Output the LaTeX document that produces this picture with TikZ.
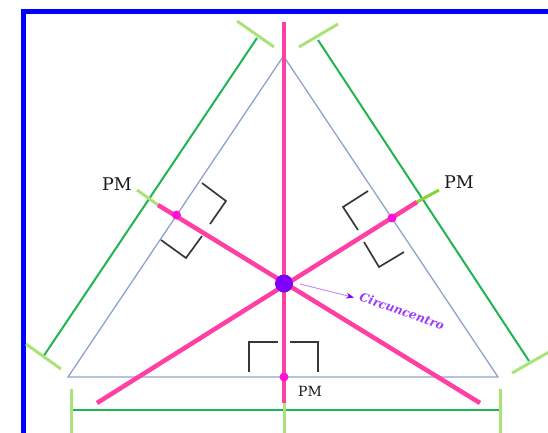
\documentclass[tikz,border=0pt]{standalone}
\usepackage{fontspec}
\setmainfont{DejaVu Serif}
\usetikzlibrary{arrows.meta}
\definecolor{frameblue}{HTML}{0000FF}
\definecolor{triedge}{HTML}{8FA3C9}
\definecolor{darkgreen}{HTML}{1FB551}
\definecolor{limeg}{HTML}{ABE37A}
\definecolor{limeb}{HTML}{86D33A}
\definecolor{hotpink}{HTML}{FF3FA4}
\definecolor{magdot}{HTML}{FF10D8}
\definecolor{purpdot}{HTML}{8000FF}
\definecolor{lavline}{HTML}{C08CFF}
\definecolor{txtpurple}{HTML}{9B3BFF}
\definecolor{markgray}{HTML}{383838}
\tikzset{
  frameline/.style={draw=frameblue, line width=5pt},
  triline/.style={draw=triedge, line width=1.3pt, line join=miter},
  greenline/.style={draw=darkgreen, line width=2pt},
  ticks/.style={draw=limeg, line width=3pt},
  tickb/.style={draw=limeb, line width=3pt},
  bisector/.style={draw=hotpink, line width=4.5pt},
  rightmark/.style={draw=markgray, line width=1.7pt},
  middot/.style={circle, fill=magdot, inner sep=0pt, minimum size=9pt},
  centerdot/.style={circle, fill=purpdot, inner sep=0pt, minimum size=18pt},
  pmlabel/.style={text=black!90, inner sep=0pt},
}
\begin{document}
\begin{tikzpicture}[x=1pt,y=-1pt]
\useasboundingbox (0,0) rectangle (548,432);
\clip (0,0) rectangle (548,432);
% frame
\draw[frameline] (23,11) rectangle (620,500);
% triangle
\coordinate (A) at (283.5,56);
\coordinate (B) at (68,377);
\coordinate (C) at (498,377);
\draw[triline] (A) -- (B) -- (C) -- cycle;
% green parallels
\coordinate (gl1) at (257,38);
\coordinate (gl2) at (43,357);
\coordinate (gr1) at (318,40);
\coordinate (gr2) at (529,361);
\coordinate (gb1) at (71,410);
\coordinate (gb2) at (500,410);
\draw[greenline] (gl1) -- (gl2);
\draw[greenline] (gr1) -- (gr2);
\draw[greenline] (gb1) -- (gb2);
% lime ticks
\coordinate (t1a) at (237,21);  \coordinate (t1b) at (274,47);
\coordinate (t2a) at (26,344);  \coordinate (t2b) at (61,369);
\coordinate (t3a) at (299,47);  \coordinate (t3b) at (338,24);
\coordinate (t4a) at (512,373); \coordinate (t4b) at (556,348);
\coordinate (t5a) at (71,389);  \coordinate (t5b) at (71,434);
\coordinate (t6a) at (500,389); \coordinate (t6b) at (500,434);
\draw[ticks] (t1a) -- (t1b);
\draw[ticks] (t2a) -- (t2b);
\draw[ticks] (t3a) -- (t3b);
\draw[ticks] (t4a) -- (t4b);
\draw[ticks] (t5a) -- (t5b);
\draw[ticks] (t6a) -- (t6b);
% right-angle marks
\coordinate (r1a) at (202,183); \coordinate (r1b) at (226,201); \coordinate (r1c) at (210,224);
\coordinate (r1d) at (202,236); \coordinate (r1e) at (186,258); \coordinate (r1f) at (161,240);
\draw[rightmark] (r1a) -- (r1b) -- (r1c);
\draw[rightmark] (r1d) -- (r1e) -- (r1f);
\coordinate (r2a) at (368,191); \coordinate (r2b) at (343,207); \coordinate (r2c) at (358,230);
\coordinate (r2d) at (364,242); \coordinate (r2e) at (379,267); \coordinate (r2f) at (404,252);
\draw[rightmark] (r2a) -- (r2b) -- (r2c);
\draw[rightmark] (r2d) -- (r2e) -- (r2f);
\coordinate (r3a) at (249,372); \coordinate (r3b) at (249,342); \coordinate (r3c) at (278,342);
\coordinate (r3d) at (290,342); \coordinate (r3e) at (318,342); \coordinate (r3f) at (318,372);
\draw[rightmark] (r3a) -- (r3b) -- (r3c);
\draw[rightmark] (r3d) -- (r3e) -- (r3f);
% perpendicular bisectors
\coordinate (p1s) at (158,205); \coordinate (p1e) at (480,403);
\coordinate (p2s) at (417,202); \coordinate (p2e) at (97,403);
\coordinate (p3s) at (284,22); \coordinate (p3e) at (284,403);
\coordinate (l1) at (137,190);
\coordinate (l2) at (439,190);
\coordinate (l3) at (284,434);
\draw[ticks] (l1) -- (p1s);
\draw[tickb] (p2s) -- (l2);
\draw[ticks] (p3e) -- (l3);
\draw[bisector] (p1s) -- (p1e);
\draw[bisector] (p2s) -- (p2e);
\draw[bisector] (p3s) -- (p3e);
% dots
\node[middot] (Mab) at (176.5,215) {};
\node[middot] (Mac) at (392,218) {};
\node[middot] (Mbc) at (284,377) {};
\node[centerdot] (O) at (284,283.5) {};
% labels
\node[pmlabel, font=\fontsize{17.5}{19}\selectfont] (pm1) at (117,184) {PM};
\node[pmlabel, font=\fontsize{17.5}{19}\selectfont] (pm2) at (459,182) {PM};
\node[pmlabel, font=\fontsize{14}{16}\selectfont] (pm3) at (310,391.5) {PM};
\node[text=txtpurple, font=\fontsize{12}{14}\selectfont\bfseries\itshape, rotate=-19.5, inner sep=0pt] (circ) at (402,311) {Circuncentro};
\coordinate (arrs) at (300,284);
\coordinate (arre) at (354,297.5);
\draw[draw=lavline, line width=0.9pt, -{Stealth[length=8pt, width=6pt, color=purpdot]}] (arrs) -- (arre);
\end{tikzpicture}
\end{document}
